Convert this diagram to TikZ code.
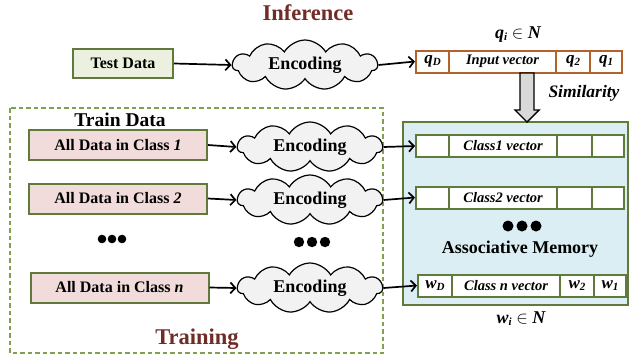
\documentclass[tikz,border=0pt]{standalone}
\usepackage{fontspec}
\setmainfont{Liberation Serif}
\usetikzlibrary{shapes.symbols,arrows.meta,calc}
\definecolor{titlered}{RGB}{112,44,38}
\definecolor{olivedark}{RGB}{96,122,60}
\definecolor{olivelight}{RGB}{130,160,80}
\definecolor{greenfill}{RGB}{235,241,222}
\definecolor{pinkfill}{RGB}{242,220,219}
\definecolor{cloudgray}{RGB}{242,242,242}
\definecolor{orangebrown}{RGB}{178,98,42}
\definecolor{memblue}{RGB}{219,238,243}
\definecolor{arrowgray}{RGB}{217,217,217}
\newcommand{\fs}[1]{\fontsize{#1}{#1}\selectfont}
\begin{document}
\begin{tikzpicture}[x=1pt,y=-1pt,
  databox/.style={draw=olivedark, line width=2pt, inner sep=0pt, font=\fs{16}\bfseries},
  enc/.style={cloud, cloud puffs=11, cloud puff arc=120, cloud ignores aspect, draw=black, fill=cloudgray, line width=1.2pt, minimum width=145pt, minimum height=50pt, inner sep=0pt, font=\fs{18}\bfseries},
  cellbox/.style={draw, line width=2pt, minimum height=22pt, inner sep=0pt, fill=white, font=\fs{14.5}\bfseries\itshape},
  conn/.style={line width=1.7pt, -{Straight Barb[length=5pt,width=11pt,line width=1.7pt]}},
  title/.style={font=\fs{22.5}\bfseries, text=titlered},
  dot/.style={fill=black}
]
\useasboundingbox (0,0) rectangle (629,360);

% Titles
\node[title] (inf) at (308,13) {Inference};
\node[title] (trn) at (197,339) {Training};

% Training dashed box
\draw[olivelight, line width=1.4pt, dash pattern=on 4.5pt off 3pt] (10,108) rectangle (383,353);
\node[font=\fs{19.5}\bfseries] (traindata) at (120,120) {Train Data};

% Memory box
\node[draw=olivedark, fill=memblue, line width=2pt, minimum width=225pt, minimum height=183pt, inner sep=0pt] (mem) at (515.5,213.5) {};
\node[font=\fs{18}\bfseries] (amlabel) at (520,249) {Associative Memory};
\fill[dot] (508,226) circle (5.5) (522,226) circle (5.5) (536,226) circle (5.5);

% Test data row
\node[databox, fill=greenfill, minimum width=100pt, minimum height=29pt] (tdata) at (123,63.5) {Test Data};
\node[enc] (enc0) at (305,65) {Encoding};

% Input vector row
\begin{scope}[every node/.style={cellbox, draw=orangebrown}]
\node[minimum width=33pt, font=\fs{17}\bfseries\itshape] (qD) at (432.5,61.5) {q\raisebox{-2pt}{\fs{11}D}};
\node[minimum width=107pt] (iv) at (502.5,61.5) {Input vector};
\node[minimum width=34pt, font=\fs{17}\bfseries\itshape] (q2) at (573,61.5) {q\raisebox{-2pt}{\fs{11}2}};
\node[minimum width=32pt, font=\fs{17}\bfseries\itshape] (q1) at (606,61.5) {q\raisebox{-2pt}{\fs{11}1}};
\end{scope}
\node[font=\fs{18}\bfseries\itshape] (qlabel) at (518,35) {q\raisebox{-2pt}{\fs{11}i} $\in$ N};

\draw[conn] (tdata.east) -- (enc0.west);
\draw[conn] (enc0.east) -- (qD.west);

% Similarity block arrow
\draw[fill=arrowgray, line width=1.4pt] (520,73) -- (534,73) -- (534,110) -- (539,110) -- (527,122) -- (515,110) -- (520,110) -- cycle;
\node[font=\fs{17.5}\bfseries\itshape] (sim) at (584,93) {Similarity};

% Class rows
\node[databox, fill=pinkfill, minimum width=178pt, minimum height=30pt] (c1) at (118,145) {All Data in Class \textit{1}};
\node[databox, fill=pinkfill, minimum width=178pt, minimum height=30pt] (c2) at (118,198.5) {All Data in Class \textit{2}};
\node[databox, fill=pinkfill, minimum width=178pt, minimum height=30pt] (cn) at (119.5,287.5) {All Data in Class \textit{n}};

\node[enc] (enc1) at (310,147) {Encoding};
\node[enc] (enc2) at (310,200) {Encoding};
\node[enc] (encn) at (310,288) {Encoding};

\fill[dot] (102,239) circle (4.3) (112,239) circle (4.3) (122,239) circle (4.3);
\fill[dot] (299,242) circle (5.2) (312,242) circle (5.2) (325,242) circle (5.2);

\begin{scope}[every node/.style={cellbox, draw=olivedark}]
\node[minimum width=33pt] (a1) at (432.5,146) {};
\node[minimum width=108pt] (a2) at (503,146) {Class1 vector};
\node[minimum width=35pt] (a3) at (574.5,146) {};
\node[minimum width=32pt] (a4) at (608,146) {};
\node[minimum width=33pt] (b1) at (432.5,197.5) {};
\node[minimum width=108pt] (b2) at (503,197.5) {Class2 vector};
\node[minimum width=35pt] (b3) at (574.5,197.5) {};
\node[minimum width=32pt] (b4) at (608,197.5) {};
\node[minimum width=34pt, font=\fs{17}\bfseries\itshape] (n1) at (435,285.5) {w\raisebox{-2pt}{\fs{11}D}};
\node[minimum width=108pt] (n2) at (506,285.5) {Class n vector};
\node[minimum width=34pt, font=\fs{17}\bfseries\itshape] (n3) at (577,285.5) {w\raisebox{-2pt}{\fs{11}2}};
\node[minimum width=32pt, font=\fs{17}\bfseries\itshape] (n4) at (610,285.5) {w\raisebox{-2pt}{\fs{11}1}};
\end{scope}
\node[font=\fs{18}\bfseries\itshape] (wlabel) at (521,319) {w\raisebox{-2pt}{\fs{11}i} $\in$ N};

\draw[conn] (c1.east) -- (enc1.west);
\draw[conn] (c2.east) -- (enc2.west);
\draw[conn] (cn.east) -- (encn.west);
\draw[conn] (enc1.east) -- (a1.west);
\draw[conn] (enc2.east) -- (b1.west);
\draw[conn] (encn.east) -- (n1.west);
\end{tikzpicture}
\end{document}
